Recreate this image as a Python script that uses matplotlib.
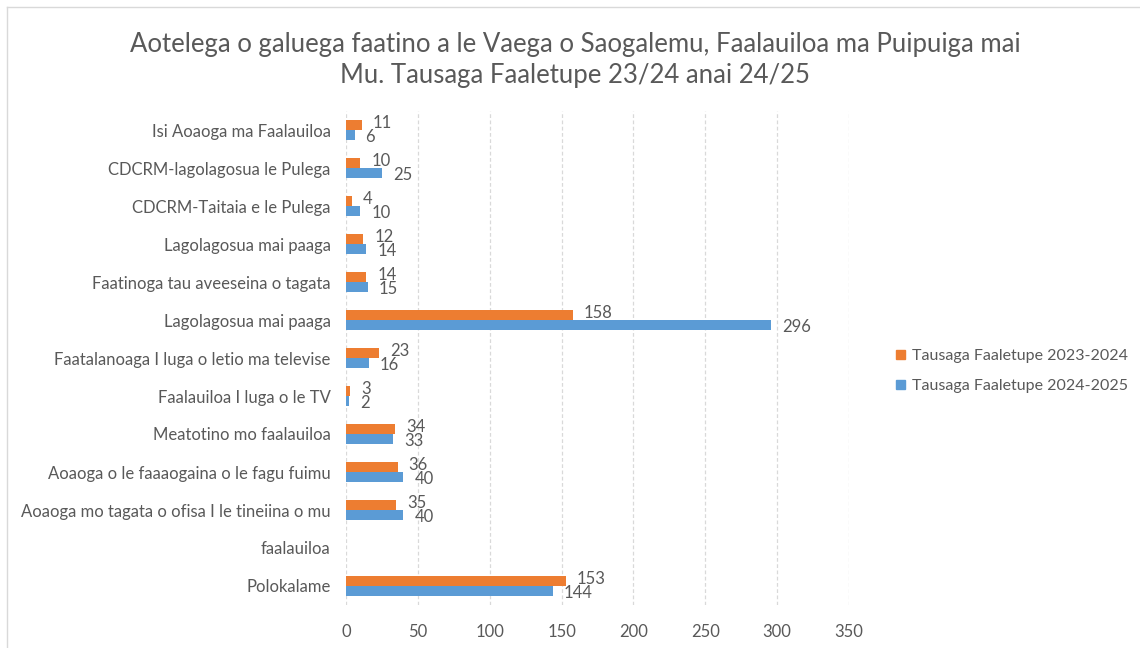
import matplotlib
matplotlib.use("Agg")
import matplotlib.pyplot as plt
from matplotlib.lines import Line2D
from matplotlib.patches import Patch
import numpy as np

plt.rcParams['font.family'] = ['Lato', 'DejaVu Sans']

categories = [
    "Isi Aoaoga ma Faalauiloa",
    "CDCRM-lagolagosua le Pulega",
    "CDCRM-Taitaia e le Pulega",
    "Lagolagosua mai paaga",
    "Faatinoga tau aveeseina o tagata",
    "Lagolagosua mai paaga",
    "Faatalanoaga I luga o letio ma televise",
    "Faalauiloa I luga o le TV",
    "Meatotino mo faalauiloa",
    "Aoaoga o le faaaogaina o le fagu fuimu",
    "Aoaoga mo tagata o ofisa I le tineiina o mu",
    "faalauiloa",
    "Polokalame",
]
series_2324 = [11, 10, 4, 12, 14, 158, 23, 3, 34, 36, 35, None, 153]
series_2425 = [6, 25, 10, 14, 15, 296, 16, 2, 33, 40, 40, None, 144]
series_names = ["Tausaga Faaletupe 2023-2024", "Tausaga Faaletupe 2024-2025"]
xticks = [0, 50, 100, 150, 200, 250, 300, 350]
title = ("Aotelega o galuega faatino a le Vaega o Saogalemu, Faalauiloa ma Puipuiga mai\n"
         "Mu. Tausaga Faaletupe 23/24 anai 24/25")

ORANGE = "#ED7D31"
BLUE = "#5B9BD5"
GREY = "#595959"

W, H = 1140, 648
fig = plt.figure(figsize=(W / 100, H / 100), dpi=100)
ax = fig.add_axes([346 / W, 1 - 605 / H, (849 - 346) / W, (605 - 111) / H])

y = np.arange(len(categories))
bh = 0.27
v1 = np.array([np.nan if v is None else v for v in series_2324], dtype=float)
v2 = np.array([np.nan if v is None else v for v in series_2425], dtype=float)
ax.barh(y - bh / 2, v1, height=bh, color=ORANGE, zorder=3)
ax.barh(y + bh / 2, v2, height=bh, color=BLUE, zorder=3)

for yi, a, b in zip(y, v1, v2):
    if not np.isnan(a):
        ax.annotate(f"{int(a)}", (a, yi - bh / 2), xytext=(11, 2), textcoords="offset pixels",
                    ha="left", va="center", fontsize=12, color=GREY)
    if not np.isnan(b):
        ax.annotate(f"{int(b)}", (b, yi + bh / 2), xytext=(11, -2), textcoords="offset pixels",
                    ha="left", va="center", fontsize=12, color=GREY)

ax.set_xlim(0, 350)
ax.set_ylim(len(categories) - 0.5, -0.5)
ax.set_xticks(xticks)
ax.set_xticklabels([str(t) for t in xticks])
ax.set_yticks(y)
ax.set_yticklabels(categories)
ax.tick_params(axis='both', length=0, colors=GREY, labelsize=12)
ax.tick_params(axis='x', pad=14)
ax.tick_params(axis='y', pad=11)
ax.grid(axis='x', color='#D9D9D9', linestyle=(0, (3, 2)), linewidth=0.9, zorder=0)
for s in ax.spines.values():
    s.set_visible(False)

fig.suptitle(title, x=575 / W, y=1 - 32 / H, va='top', fontsize=18.5, color=GREY, linespacing=1.32)

handles = [Patch(color=ORANGE), Patch(color=BLUE)]
fig.legend(handles, series_names, loc='center left', bbox_to_anchor=(882 / W, 1 - 371 / H),
           frameon=False, fontsize=11.5, labelcolor=GREY, handlelength=0.55, handleheight=0.55,
           handletextpad=0.45, labelspacing=1.0)

# outer chart border (top and left)
fig.add_artist(Line2D([7 / W, 1], [1 - 7 / H, 1 - 7 / H], transform=fig.transFigure, color='#D9D9D9', lw=1))
fig.add_artist(Line2D([7 / W, 7 / W], [0, 1 - 7 / H], transform=fig.transFigure, color='#D9D9D9', lw=1))

fig.savefig("out.png", dpi=100)
